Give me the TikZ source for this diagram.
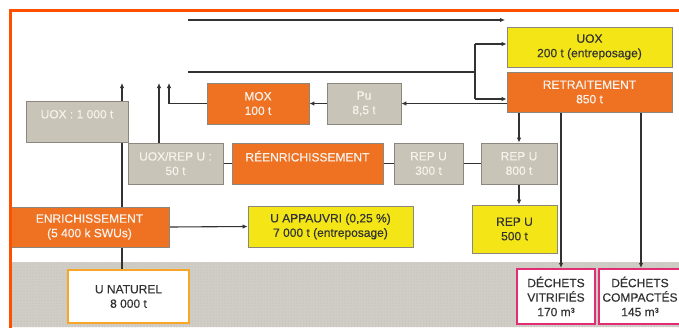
\documentclass[tikz,border=0pt]{standalone}
\usepackage{fontspec}
\setmainfont{Liberation Sans}
\newfontfamily\boxfont[FakeBold=0.35]{Liberation Sans}
\usetikzlibrary{arrows.meta,patterns}
\definecolor{orf}{RGB}{239,114,35}
\definecolor{grf}{RGB}{200,196,183}
\definecolor{yel}{RGB}{244,230,22}
\definecolor{boxline}{RGB}{140,135,125}
\definecolor{framec}{RGB}{255,80,0}
\definecolor{pinkc}{RGB}{225,45,115}
\definecolor{natc}{RGB}{247,166,40}
\definecolor{lighttext}{RGB}{248,242,236}
\definecolor{darktext}{RGB}{50,50,50}
\definecolor{lin}{RGB}{50,50,50}
\definecolor{bggray}{RGB}{208,204,198}
\definecolor{dotc}{RGB}{190,186,180}
\pgfdeclarelayer{bg}
\pgfsetlayers{bg,main}
\begin{document}
\begin{tikzpicture}[x=1pt,y=-1pt,
  box/.style={draw=boxline, line width=0.8pt, inner sep=0pt, align=center,
    font=\boxfont\fontsize{12}{14.5}\selectfont},
  obox/.style={box, fill=orf, text=lighttext},
  gbox/.style={box, fill=grf, text=lighttext},
  ybox/.style={box, fill=yel, text=darktext},
  wbox/.style={box, fill=white, text=darktext, line width=2pt},
  conn/.style={draw=lin, line width=1.1pt},
  arr/.style={conn, -{Latex[length=5pt,width=4.5pt]}}]
\useasboundingbox (0,0) rectangle (679,327);
\begin{pgfonlayer}{bg}
\fill[white] (0,0) rectangle (679,327);
\fill[bggray] (11,262) rectangle (679,327);
\fill[pattern=dots, pattern color=dotc] (11,262) rectangle (679,327);
\end{pgfonlayer}

% free ends / bends
\coordinate (t1s) at (188,20); \coordinate (t1e) at (505,20);
\coordinate (t2s) at (188,72); \coordinate (t2j) at (475,72);
\coordinate (ja) at (475,44); \coordinate (jb) at (475,99);
\coordinate (a1) at (122,83); \coordinate (a2) at (159,83); \coordinate (a3) at (169,83);
\coordinate (c1) at (561,0); \coordinate (c2) at (641,0);

% boxes
\node[gbox, minimum width=102pt, minimum height=41pt] (uox1000) at (77,121.5) {UOX : 1 000 t\\\phantom{0}};
\node[gbox, minimum width=95pt, minimum height=41pt] (uoxrep) at (175.5,163.5) {UOX/REP U :\\50 t};
\node[obox, minimum width=151pt, minimum height=41pt] (reen) at (307.5,163.5) {RÉENRICHISSEMENT\\\phantom{0}};
\node[gbox, minimum width=69pt, minimum height=41pt] (rep300) at (428.5,163.5) {REP U\\300 t};
\node[gbox, minimum width=76pt, minimum height=41pt] (rep800) at (519,163.5) {REP U\\800 t};
\node[ybox, minimum width=85pt, minimum height=48pt] (rep500) at (514.5,229) {REP U\\500 t};
\node[obox, minimum width=102pt, minimum height=41pt] (mox) at (258,103.5) {MOX\\100 t};
\node[gbox, minimum width=74pt, minimum height=41pt] (pu) at (364,103.5) {Pu\\8,5 t};
\node[ybox, minimum width=165pt, minimum height=40pt] (uox200) at (589.5,47) {UOX\\200 t (entreposage)};
\node[obox, minimum width=165pt, minimum height=40pt] (retr) at (589.5,92) {RETRAITEMENT\\850 t};
\node[obox, minimum width=159pt, minimum height=40pt] (enr) at (89.5,227) {ENRICHISSEMENT\\(5 400 k SWUs)};
\node[ybox, minimum width=165pt, minimum height=41pt] (uapp) at (330.5,226.5) {U APPAUVRI (0,25 \%)\\7 000 t (entreposage)};
\node[wbox, draw=natc, minimum width=121pt, minimum height=53pt] (unat) at (128.5,296.5) {U NATUREL\\8 000 t};
\node[wbox, draw=pinkc, minimum width=78pt, minimum height=55pt] (dv) at (556,296.5) {DÉCHETS\\VITRIFIÉS\\170 m³};
\node[wbox, draw=pinkc, minimum width=82pt, minimum height=55pt] (dc) at (640,296.5) {DÉCHETS\\COMPACTÉS\\145 m³};

% connectors
\begin{pgfonlayer}{bg}
\draw[arr] (t1s) -- (t1e);
\draw[conn] (t2s) -- (t2j);
\draw[conn] (ja) -- (jb);
\draw[arr] (ja) -- (ja -| uox200.west);
\draw[arr] (jb) -- (jb -| retr.west);
\draw[arr] (retr.west |- pu.east) -- (pu.east);
\draw[arr] (pu.west) -- (mox.east);
\draw[arr] (mox.west) -| (a3);
\draw[arr] (uoxrep.north -| a2) -- (a2);
\draw[arr] (unat.north -| a1) -- (a1);
\draw[conn] (uoxrep.east) -- (reen.west);
\draw[conn] (reen.east) -- (rep300.west);
\draw[conn] (rep300.east) -- (rep800.west);
\draw[arr] (retr.south -| rep800.north) -- (rep800.north);
\draw[arr] (rep800.south) -- (rep800.south |- rep500.north);
\draw[arr] (retr.south -| c1) -- (dv.north -| c1);
\draw[arr] (retr.south -| c2) -- (dc.north -| c2);
\draw[arr] (enr.east) -- (uapp.west);
\end{pgfonlayer}

% frame
\draw[framec, line width=3pt] (10,340) -- (10,10.8) -- (690,10.8);
\end{tikzpicture}
\end{document}
